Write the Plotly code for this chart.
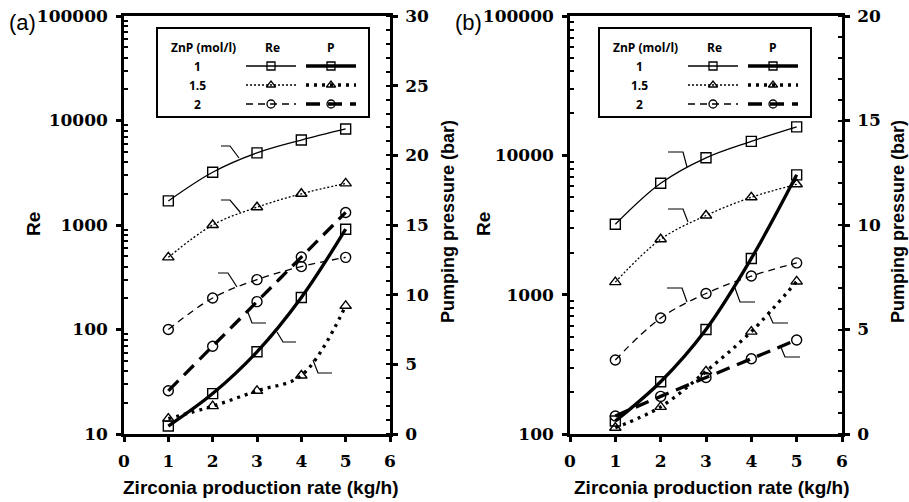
import plotly.graph_objects as go

W, H = 909, 502

# ---------------- data ----------------
x_rate = [1, 2, 3, 4, 5]
znp_levels = ["1", "1.5", "2"]

# Panel (a)
re_a = {
    "1":   [1700, 3200, 4900, 6500, 8300],
    "1.5": [490, 1000, 1480, 1990, 2500],
    "2":   [100, 200, 300, 400, 490],
}
p_a = {
    "1":   [0.57, 2.9, 5.9, 9.8, 14.7],
    "1.5": [1.1, 2.0, 3.1, 4.2, 9.2],
    "2":   [3.1, 6.3, 9.5, 12.7, 15.9],
}
# Panel (b)
re_b = {
    "1":   [3200, 6300, 9600, 12600, 16000],
    "1.5": [1230, 2500, 3700, 5000, 6200],
    "2":   [340, 680, 1020, 1360, 1690],
}
p_b = {
    "1":   [0.62, 2.5, 5.0, 8.4, 12.4],
    "1.5": [0.3, 1.3, 3.0, 4.9, 7.3],
    "2":   [0.86, 1.8, 2.7, 3.6, 4.5],
}

x_ticks = [0, 1, 2, 3, 4, 5, 6]
re_ticks_a = [10, 100, 1000, 10000, 100000]
re_ticks_b = [100, 1000, 10000, 100000]
p_ticks_a = [0, 5, 10, 15, 20, 25, 30]
p_ticks_b = [0, 5, 10, 15, 20]

# ---------------- styles ----------------
symbols = {"1": "square-open", "1.5": "triangle-up-open", "2": "circle-open"}
msize = {"1": 10, "1.5": 10, "2": 10}
re_dash = {"1": "solid", "1.5": "2px,2px", "2": "7px,5px"}
p_dash = {"1": "solid", "1.5": "3px,5px", "2": "14px,8px"}
RE_W, P_W = 1.3, 3.3

tick_font = dict(family="DejaVu Serif", size=17, color="black")
title_font = dict(family="Liberation Sans, Arial, sans-serif", size=19, color="black", weight="bold")
ytitle_font = dict(family="Liberation Sans, Arial, sans-serif", size=18, color="black", weight="bold")
leg_font = dict(family="Open Sans", size=12, color="black", weight="bold")

fig = go.Figure()


def add_series(xa, ya_re, ya_p, re_d, p_d):
    for z in znp_levels:
        fig.add_trace(go.Scatter(
            x=x_rate, y=re_d[z], xaxis=xa, yaxis=ya_re, mode="lines+markers",
            line=dict(color="black", width=RE_W, dash=re_dash[z], shape="spline"),
            marker=dict(symbol=symbols[z], size=msize[z], color="black", line=dict(width=1.4)),
            cliponaxis=False, showlegend=False))
        fig.add_trace(go.Scatter(
            x=x_rate, y=p_d[z], xaxis=xa, yaxis=ya_p, mode="lines+markers",
            line=dict(color="black", width=P_W, dash=p_dash[z], shape="spline"),
            marker=dict(symbol=symbols[z], size=msize[z], color="black", line=dict(width=1.4)),
            cliponaxis=False, showlegend=False))


add_series("x", "y", "y2", re_a, p_a)
add_series("x2", "y3", "y4", re_b, p_b)


def bold(vals):
    return ["<b>%s</b>" % v for v in vals]


# ---------------- axes ----------------
def px_x(v):
    return v / W


def px_y(v):
    return 1 - v / H


ydom = [px_y(434), px_y(16)]
ax_common = dict(showline=True, linewidth=2.5, linecolor="black", showgrid=False,
                 zeroline=False, tickcolor="black", tickfont=tick_font, automargin=False,
                 ticks="outside", ticklen=5, tickwidth=2.5)
xcommon = dict(ax_common, range=[0, 6], tickvals=x_ticks, ticktext=bold(x_ticks),
               mirror=True, ticklabelstandoff=5)


def log_minor(lo, hi):
    return [m * 10 ** k for k in range(lo, hi) for m in range(2, 10)]


minor_common = dict(ticks="inside", ticklen=4, tickwidth=2, tickcolor="black")

fig.update_layout(
    width=W, height=H, autosize=False,
    margin=dict(l=0, r=0, t=0, b=0, autoexpand=False),
    paper_bgcolor="white", plot_bgcolor="rgba(0,0,0,0)",
    xaxis=dict(xcommon, domain=[px_x(124), px_x(390)], anchor="y"),
    yaxis=dict(ax_common, type="log", range=[1, 5], domain=ydom, anchor="x",
               tickvals=re_ticks_a, ticktext=bold(re_ticks_a), ticklabelstandoff=5,
               minor=dict(minor_common, tickvals=log_minor(1, 5))),
    yaxis2=dict(ax_common, range=[0, 30], overlaying="y", side="right", anchor="x",
                tickvals=p_ticks_a, ticktext=bold(p_ticks_a), ticklabelstandoff=4,
                minor=dict(minor_common, dtick=1)),
    xaxis2=dict(xcommon, domain=[px_x(570), px_x(842)], anchor="y3"),
    yaxis3=dict(ax_common, type="log", range=[2, 5], domain=ydom, anchor="x2",
                tickvals=re_ticks_b, ticktext=bold(re_ticks_b), ticklabelstandoff=5,
                minor=dict(minor_common, tickvals=log_minor(2, 5))),
    yaxis4=dict(ax_common, range=[0, 20], overlaying="y3", side="right", anchor="x2",
                tickvals=p_ticks_b, ticktext=bold(p_ticks_b), ticklabelstandoff=4,
                minor=dict(minor_common, dtick=1)),
    # pixel overlay for decorations
    xaxis3=dict(domain=[0, 1], range=[0, W], visible=False, anchor="y5", fixedrange=True,
                automargin=False),
    yaxis5=dict(domain=[0, 1], range=[H, 0], visible=False, anchor="x3", fixedrange=True,
                automargin=False),
)

# ---------------- decorations (pixel coordinates) ----------------
ann = []


def text(x, y, s, font, angle=0, xanchor="center"):
    ann.append(dict(x=x, y=y, xref="x3", yref="y5", text=s, showarrow=False,
                    font=font, textangle=angle, xanchor=xanchor, yanchor="middle"))


panel_font = dict(family="Liberation Sans, Arial, sans-serif", size=22, color="black")
text(22, 22, "(a)", panel_font)
text(468, 22, "(b)", panel_font)

for re_x, p_x, xt_x in [(33, 448, 261), (483, 898, 712)]:
    text(re_x, 224, "Re", title_font, angle=-90)
    text(p_x, 222, "Pumping pressure (bar)", ytitle_font, angle=-90)
    text(xt_x, 487, "Zirconia production rate (kg/h)", title_font)

# legend tables
shapes = []
for off in [0, 442]:
    shapes.append(dict(type="rect", xref="x3", yref="y5", x0=157 + off, x1=369 + off,
                       y0=28, y1=117, line=dict(color="black", width=2)))
    text(203 + off, 47, "ZnP (mol/l)", leg_font)
    text(272 + off, 47, "Re", leg_font)
    text(331 + off, 47, "P", leg_font)
    for i, z in enumerate(znp_levels):
        yy = 66 + 19 * i
        text(197 + off, yy, z, leg_font)
        fig.add_trace(go.Scatter(
            x=[246 + off, 271 + off, 296 + off], y=[yy, yy, yy], xaxis="x3", yaxis="y5",
            mode="lines", line=dict(color="black", width=RE_W, dash=re_dash[z]),
            showlegend=False, hoverinfo="skip"))
        fig.add_trace(go.Scatter(
            x=[306 + off, 331 + off, 356 + off], y=[yy, yy, yy], xaxis="x3", yaxis="y5",
            mode="lines", line=dict(color="black", width=P_W, dash=p_dash[z]),
            showlegend=False, hoverinfo="skip"))
        fig.add_trace(go.Scatter(
            x=[271 + off, 331 + off], y=[yy, yy], xaxis="x3", yaxis="y5",
            mode="markers", marker=dict(symbol=symbols[z], size=8, color="black",
                                        line=dict(width=1.3)),
            showlegend=False, hoverinfo="skip"))

# leader lines of the callouts
callouts = [
    [(221, 146), (230, 146), (239, 158)],
    [(221, 200), (230, 200), (240, 212)],
    [(218, 273), (228, 273), (237, 287)],
    [(247, 310), (252, 323), (266, 323)],
    [(277, 332), (283, 342), (296, 342)],
    [(313, 360), (318, 373), (332, 373)],
    [(668, 152), (683, 152), (687, 167)],
    [(668, 209), (683, 209), (688, 222)],
    [(667, 288), (682, 288), (687, 302)],
    [(735, 288), (740, 302), (755, 302)],
    [(768, 312), (773, 323), (788, 323)],
    [(780, 345), (785, 357), (800, 357)],
]
for c in callouts:
    fig.add_trace(go.Scatter(
        x=[p[0] for p in c], y=[p[1] for p in c], xaxis="x3", yaxis="y5",
        mode="lines", line=dict(color="black", width=1.2),
        showlegend=False, hoverinfo="skip"))

fig.update_layout(annotations=ann, shapes=shapes)
fig.write_html("out.html")
